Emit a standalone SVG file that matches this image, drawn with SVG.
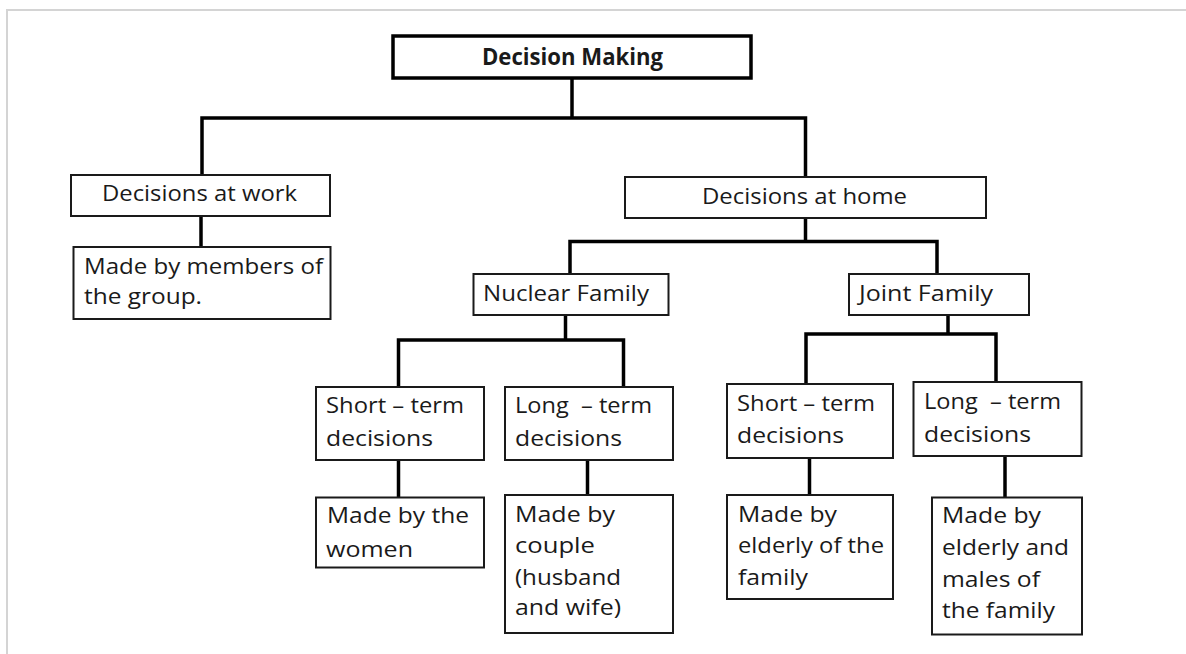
<svg xmlns="http://www.w3.org/2000/svg" width="1186" height="654" viewBox="0 0 1186 654">
<style>
.frame{stroke:#d4d4d4;stroke-width:2;fill:none}
.box{fill:#fff;stroke:#1a1a1a;stroke-width:2}
.root{fill:#fff;stroke:#000;stroke-width:3.5}
.con{fill:none;stroke:#000;stroke-width:3.5;stroke-linejoin:miter}
text{font-family:"Open Sans","Noto Sans","Liberation Sans",sans-serif;font-size:22px;fill:#1a1a1a}
.b{font-weight:bold;font-size:23px}
</style>
<rect width="1186" height="654" fill="#fff"/>
<path class="frame" d="M7 654 V10 H1186"/>
<g id="connectors">
<path class="con" d="M572 79 V118"/>
<path class="con" d="M202 175 V118 H805.5 V177"/>
<path class="con" d="M201 216 V247"/>
<path class="con" d="M805.5 219 V241.5"/>
<path class="con" d="M570 274 V241.5 H937 V274"/>
<path class="con" d="M565.5 315 V340"/>
<path class="con" d="M398.5 387 V340 H623.5 V387"/>
<path class="con" d="M398.5 460 V497"/>
<path class="con" d="M587.5 460 V495"/>
<path class="con" d="M948 315 V334"/>
<path class="con" d="M806 384 V334 H996 V382"/>
<path class="con" d="M809.5 458 V495"/>
<path class="con" d="M1005 456 V497"/>
</g>
<g id="n-root">
<rect class="root" x="393" y="36" width="358" height="42"/>
<text class="b" x="482" y="65" textLength="181" lengthAdjust="spacingAndGlyphs">Decision Making</text>
</g>
<g id="n-work">
<rect class="box" x="71" y="175" width="259" height="41"/>
<text x="102" y="201" textLength="195" lengthAdjust="spacingAndGlyphs">Decisions at work</text>
</g>
<g id="n-members">
<rect class="box" x="73.5" y="247" width="257" height="72"/>
<text x="84" y="274" textLength="239" lengthAdjust="spacingAndGlyphs">Made by members of</text>
<text x="84" y="304" textLength="118" lengthAdjust="spacingAndGlyphs">the group.</text>
</g>
<g id="n-home">
<rect class="box" x="625" y="177" width="361" height="41"/>
<text x="702" y="204" textLength="205" lengthAdjust="spacingAndGlyphs">Decisions at home</text>
</g>
<g id="n-nuclear">
<rect class="box" x="473.5" y="274" width="195" height="41"/>
<text x="483" y="301" textLength="166" lengthAdjust="spacingAndGlyphs">Nuclear Family</text>
</g>
<g id="n-joint">
<rect class="box" x="849" y="274" width="180" height="41"/>
<text x="859" y="301" textLength="134" lengthAdjust="spacingAndGlyphs">Joint Family</text>
</g>
<g id="n-nshort">
<rect class="box" x="316" y="387" width="168" height="73"/>
<text x="326" y="413" textLength="138" lengthAdjust="spacingAndGlyphs">Short – term</text>
<text x="326" y="446" textLength="107" lengthAdjust="spacingAndGlyphs">decisions</text>
</g>
<g id="n-nshort-made">
<rect class="box" x="316" y="497.5" width="168" height="70"/>
<text x="327" y="523" textLength="142" lengthAdjust="spacingAndGlyphs">Made by the</text>
<text x="326" y="556.5" textLength="87" lengthAdjust="spacingAndGlyphs">women</text>
</g>
<g id="n-nlong">
<rect class="box" x="505" y="387" width="168" height="73"/>
<text x="515" y="413" textLength="137" lengthAdjust="spacingAndGlyphs" xml:space="preserve">Long  – term</text>
<text x="515" y="446" textLength="107" lengthAdjust="spacingAndGlyphs">decisions</text>
</g>
<g id="n-nlong-made">
<rect class="box" x="505" y="495" width="168" height="138"/>
<text x="515" y="522" textLength="100" lengthAdjust="spacingAndGlyphs">Made by</text>
<text x="515" y="553" textLength="80" lengthAdjust="spacingAndGlyphs">couple</text>
<text x="515" y="584.5" textLength="106" lengthAdjust="spacingAndGlyphs">(husband</text>
<text x="515" y="615" textLength="106" lengthAdjust="spacingAndGlyphs">and wife)</text>
</g>
<g id="n-jshort">
<rect class="box" x="727" y="384" width="166" height="74"/>
<text x="737" y="410.5" textLength="138" lengthAdjust="spacingAndGlyphs">Short – term</text>
<text x="737" y="443" textLength="107" lengthAdjust="spacingAndGlyphs">decisions</text>
</g>
<g id="n-jshort-made">
<rect class="box" x="727" y="495" width="166" height="104"/>
<text x="738" y="521.5" textLength="99" lengthAdjust="spacingAndGlyphs">Made by</text>
<text x="738" y="553" textLength="146" lengthAdjust="spacingAndGlyphs">elderly of the</text>
<text x="738" y="585" textLength="70" lengthAdjust="spacingAndGlyphs">family</text>
</g>
<g id="n-jlong">
<rect class="box" x="913.5" y="382" width="168" height="74"/>
<text x="924" y="409" textLength="137" lengthAdjust="spacingAndGlyphs" xml:space="preserve">Long  – term</text>
<text x="924" y="441.5" textLength="107" lengthAdjust="spacingAndGlyphs">decisions</text>
</g>
<g id="n-jlong-made">
<rect class="box" x="932" y="497.5" width="150" height="137"/>
<text x="942" y="523" textLength="99" lengthAdjust="spacingAndGlyphs">Made by</text>
<text x="942" y="555" textLength="127" lengthAdjust="spacingAndGlyphs">elderly and</text>
<text x="942" y="586.5" textLength="98" lengthAdjust="spacingAndGlyphs">males of</text>
<text x="942" y="617.5" textLength="113" lengthAdjust="spacingAndGlyphs">the family</text>
</g>
</svg>
